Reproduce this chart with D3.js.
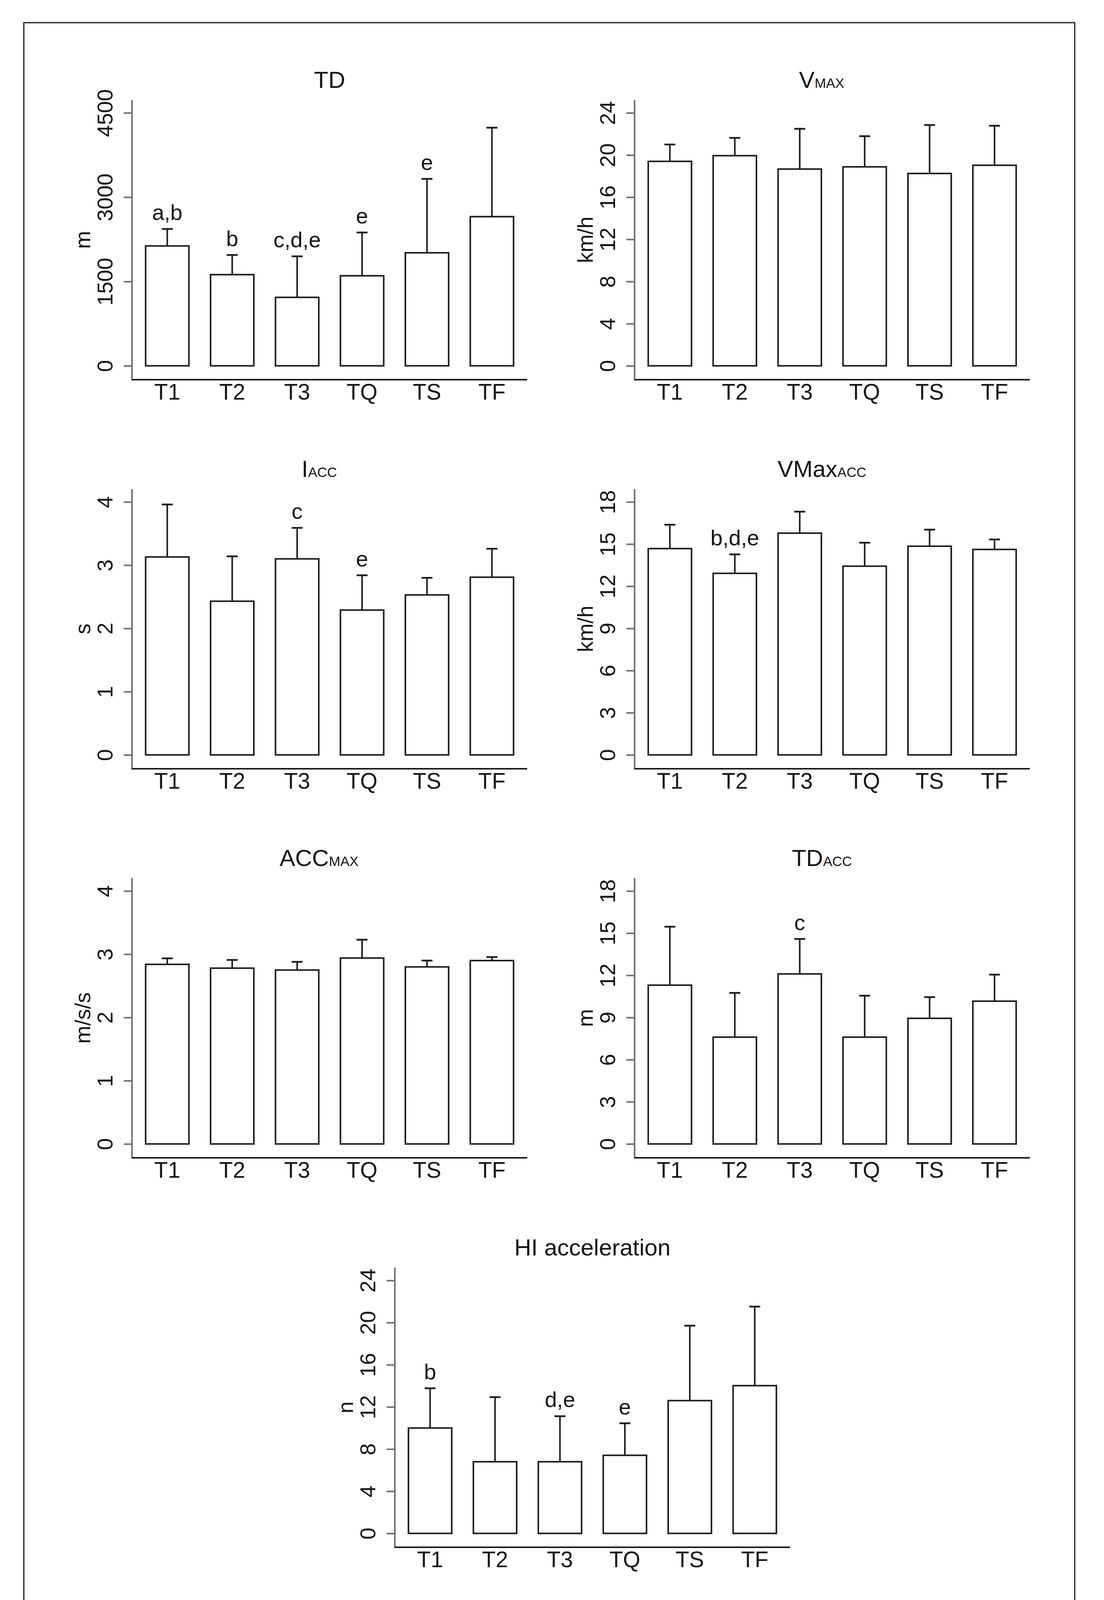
<!DOCTYPE html>
<html>
<head>
<meta charset="utf-8">
<title>Match analysis bar charts</title>
<script src="https://cdn.jsdelivr.net/npm/d3@7"></script>
<style>
  body { margin: 0; background: #fff; }
  svg text { font-family: "Liberation Sans", Arial, sans-serif; fill: #151515; }
</style>
</head>
<body>
<script>
// categories shared by every panel
var cats = ["T1", "T2", "T3", "TQ", "TS", "TF"];

// TD (m)
var tdMean = [2133, 1622, 1218, 1602, 2011, 2654];
var tdSd = [302, 350, 730, 770, 1315, 1583];
var tdLetters = ["a,b", "b", "c,d,e", "e", "e", ""];
var tdTicks = [0, 1500, 3000, 4500];

// VMAX (km/h)
var vmaxMean = [19.40, 19.94, 18.67, 18.88, 18.25, 19.03];
var vmaxSd = [1.60, 1.69, 3.82, 2.91, 4.60, 3.75];
var vmaxLetters = ["", "", "", "", "", ""];
var vmaxTicks = [0, 4, 8, 12, 16, 20, 24];

// IACC (s)
var iaccMean = [3.13, 2.43, 3.10, 2.29, 2.53, 2.81];
var iaccSd = [0.83, 0.71, 0.49, 0.55, 0.27, 0.45];
var iaccLetters = ["", "", "c", "e", "", ""];
var iaccTicks = [0, 1, 2, 3, 4];

// VMaxACC (km/h)
var vmaxaccMean = [14.68, 12.92, 15.78, 13.43, 14.85, 14.62];
var vmaxaccSd = [1.70, 1.35, 1.53, 1.67, 1.18, 0.71];
var vmaxaccLetters = ["", "b,d,e", "", "", "", ""];
var vmaxaccTicks = [0, 3, 6, 9, 12, 15, 18];

// ACCMAX (m/s/s)
var accmaxMean = [2.84, 2.78, 2.75, 2.94, 2.80, 2.90];
var accmaxSd = [0.095, 0.13, 0.13, 0.29, 0.10, 0.056];
var accmaxLetters = ["", "", "", "", "", ""];
var accmaxTicks = [0, 1, 2, 3, 4];

// TDACC (m)
var tdaccMean = [11.30, 7.60, 12.10, 7.60, 8.94, 10.16];
var tdaccSd = [4.16, 3.15, 2.49, 2.95, 1.51, 1.89];
var tdaccLetters = ["", "", "c", "", "", ""];
var tdaccTicks = [0, 3, 6, 9, 12, 15, 18];

// HI acceleration (n)
var hiMean = [10.0, 6.80, 6.80, 7.41, 12.60, 14.02];
var hiSd = [3.77, 6.13, 4.32, 3.04, 7.11, 7.50];
var hiLetters = ["b", "", "d,e", "e", "", ""];
var hiTicks = [0, 4, 8, 12, 16, 20, 24];

var width = 2827, height = 4228;
var boxW = 1012, boxH = 716;      // plot region of one panel
var zeroOff = 680.5, topOff = 33; // y of value 0 / top tick inside the region

var panels = [
  { main: "TD", sub: "", unit: "m", mean: tdMean, sd: tdSd, letters: tdLetters, ticks: tdTicks, left: 338, top: 256 },
  { main: "V", sub: "MAX", unit: "km/h", mean: vmaxMean, sd: vmaxSd, letters: vmaxLetters, ticks: vmaxTicks, left: 1625, top: 256 },
  { main: "I", sub: "ACC", unit: "s", mean: iaccMean, sd: iaccSd, letters: iaccLetters, ticks: iaccTicks, left: 338, top: 1252 },
  { main: "VMax", sub: "ACC", unit: "km/h", mean: vmaxaccMean, sd: vmaxaccSd, letters: vmaxaccLetters, ticks: vmaxaccTicks, left: 1625, top: 1252 },
  { main: "ACC", sub: "MAX", unit: "m/s/s", mean: accmaxMean, sd: accmaxSd, letters: accmaxLetters, ticks: accmaxTicks, left: 338, top: 2248 },
  { main: "TD", sub: "ACC", unit: "m", mean: tdaccMean, sd: tdaccSd, letters: tdaccLetters, ticks: tdaccTicks, left: 1625, top: 2248 },
  { main: "HI acceleration", sub: "", unit: "n", mean: hiMean, sd: hiSd, letters: hiLetters, ticks: hiTicks, left: 1011, top: 3245 }
];

var svg = d3.select("body").append("svg")
  .attr("width", width)
  .attr("height", height);

svg.append("rect").attr("width", width).attr("height", height).attr("fill", "#fff");

// outer frame
svg.append("rect")
  .attr("x", 61).attr("y", 58)
  .attr("width", 2691).attr("height", 4102)
  .attr("fill", "none").attr("stroke", "#333").attr("stroke-width", 3.5);

var ink = "#1c1c1c";
var grey = "#707070";

panels.forEach(function(p) {
  var g = svg.append("g").attr("transform", "translate(" + p.left + "," + p.top + ")");

  var x = d3.scaleBand().domain(cats).range([0, boxW])
    .paddingInner(1 / 3).paddingOuter(0.21);
  var y = d3.scaleLinear().domain([0, d3.max(p.ticks)]).range([zeroOff, topOff]);

  var rows = cats.map(function(c, i) {
    return { cat: c, mean: p.mean[i], sd: p.sd[i], letter: p.letters[i] };
  });

  // y axis line (grey) and x axis line (dark)
  g.append("line").attr("x1", 0).attr("x2", 0).attr("y1", 0).attr("y2", boxH + 2)
    .attr("stroke", grey).attr("stroke-width", 4);
  g.append("line").attr("x1", 0).attr("x2", boxW).attr("y1", boxH).attr("y2", boxH)
    .attr("stroke", ink).attr("stroke-width", 4);

  // y axis ticks and rotated labels
  var yAxis = d3.axisLeft(y).tickValues(p.ticks).tickSize(21).tickPadding(24)
    .tickFormat(d3.format("d"));
  var ya = g.append("g").call(yAxis);
  ya.select(".domain").remove();
  ya.selectAll(".tick line").attr("stroke", grey).attr("stroke-width", 4);
  ya.selectAll(".tick text")
    .attr("x", null).attr("dy", null)
    .attr("transform", "translate(-50,0) rotate(-90)")
    .attr("text-anchor", "middle")
    .attr("font-size", 55)
    .attr("fill", ink);

  // x axis category names (no ticks)
  var xAxis = d3.axisBottom(x).tickSize(0).tickPadding(0);
  var xa = g.append("g").attr("transform", "translate(0," + boxH + ")").call(xAxis);
  xa.select(".domain").remove();
  xa.selectAll(".tick text")
    .attr("y", 51).attr("dy", null)
    .attr("font-size", 57)
    .attr("fill", ink);

  // bars
  g.selectAll("rect.bar").data(rows).enter().append("rect")
    .attr("class", "bar")
    .attr("x", function(d) { return x(d.cat); })
    .attr("width", x.bandwidth())
    .attr("y", function(d) { return y(d.mean); })
    .attr("height", function(d) { return y(0) - y(d.mean); })
    .attr("fill", "#fff").attr("stroke", ink).attr("stroke-width", 4);

  // error bars (upper SD only)
  var cx = function(d) { return x(d.cat) + x.bandwidth() / 2; };
  g.selectAll("line.err").data(rows).enter().append("line")
    .attr("class", "err")
    .attr("x1", cx).attr("x2", cx)
    .attr("y1", function(d) { return y(d.mean); })
    .attr("y2", function(d) { return y(d.mean + d.sd); })
    .attr("stroke", ink).attr("stroke-width", 4);
  g.selectAll("line.cap").data(rows).enter().append("line")
    .attr("class", "cap")
    .attr("x1", function(d) { return cx(d) - 14; })
    .attr("x2", function(d) { return cx(d) + 14; })
    .attr("y1", function(d) { return y(d.mean + d.sd); })
    .attr("y2", function(d) { return y(d.mean + d.sd); })
    .attr("stroke", ink).attr("stroke-width", 4.5);

  // significance letters
  g.selectAll("text.sig").data(rows.filter(function(d) { return d.letter; })).enter().append("text")
    .attr("class", "sig")
    .attr("x", cx)
    .attr("y", function(d) { return y(d.mean + d.sd) - 23; })
    .attr("text-anchor", "middle")
    .attr("font-size", 56)
    .text(function(d) { return d.letter; });

  // y axis unit label
  g.append("text")
    .attr("transform", "translate(-107," + (boxH / 2) + ") rotate(-90)")
    .attr("text-anchor", "middle")
    .attr("font-size", 55)
    .text(p.unit);

  // title: centred on the full-size width, subscript drawn small
  var t = g.append("text")
    .attr("y", -31)
    .attr("font-size", 60);
  t.append("tspan").text(p.main);
  if (p.sub) t.append("tspan").attr("font-size", 35).text(p.sub);
  var probe = g.append("text").attr("font-size", 60).text(p.main + p.sub);
  var fullW = probe.node().getComputedTextLength();
  probe.remove();
  t.attr("x", boxW / 2 - fullW / 2);
});
</script>
</body>
</html>
